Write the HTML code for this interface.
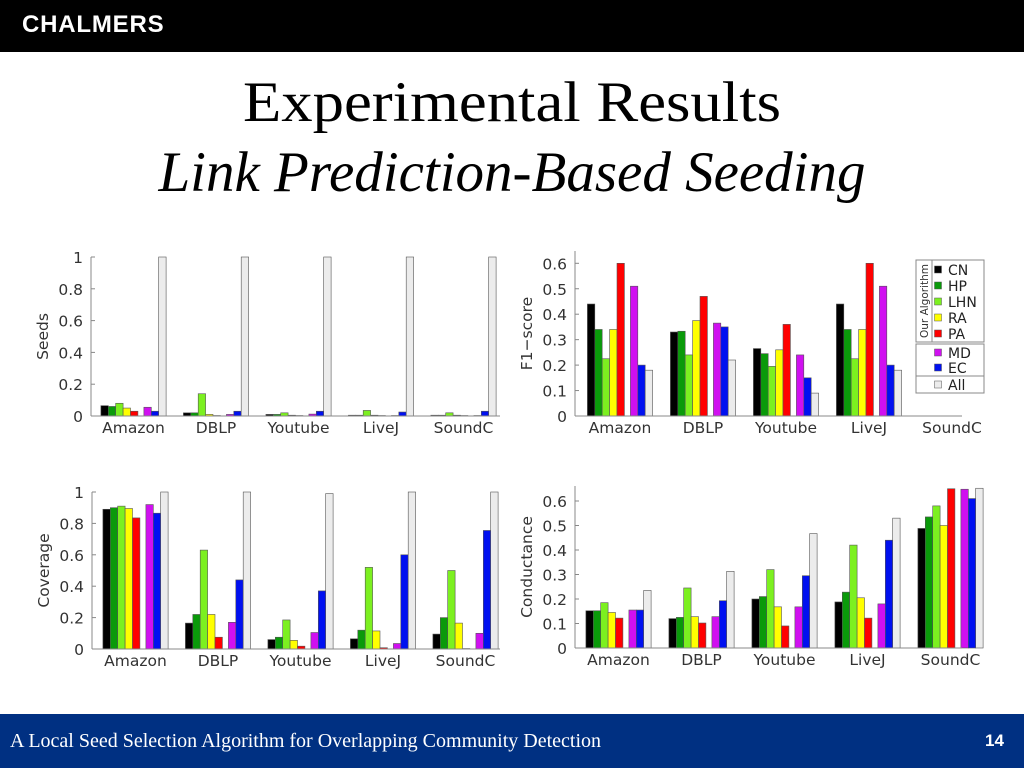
<!DOCTYPE html>
<html><head><meta charset="utf-8"><style>
html,body{margin:0;padding:0;width:1024px;height:768px;overflow:hidden;background:#fff;}
.hdr{position:absolute;left:0;top:0;width:1024px;height:52px;background:#000;}
.logo{position:absolute;left:22px;top:11px;color:#fff;font:bold 24px "Liberation Sans",sans-serif;letter-spacing:0.8px;}
.t1{position:absolute;left:0;width:1024px;top:70px;line-height:1;text-align:center;font:57px "Liberation Serif",serif;color:#000;transform:scaleX(1.1);}
.t2{position:absolute;left:0;width:1024px;top:140px;line-height:1;text-align:center;font:italic 57px "Liberation Serif",serif;color:#000;}
.ftr{position:absolute;left:0;top:714px;width:1024px;height:54px;background:#003082;}
.ftxt{position:absolute;left:10px;top:16px;color:#fff;font:20px "Liberation Serif",serif;}
.pnum{position:absolute;left:985px;top:17px;color:#fff;font:bold 17px "Liberation Sans",sans-serif;}
svg{position:absolute;left:0;top:0;}
</style></head><body>
<div class="hdr"><div class="logo">CHALMERS</div></div>
<div class="t1">Experimental Results</div>
<div class="t2">Link Prediction-Based Seeding</div>
<svg id="s" width="1024" height="768"></svg>
<div class="ftr"><div class="ftxt">A Local Seed Selection Algorithm for Overlapping Community Detection</div><div class="pnum">14</div></div>
<script>
const categories=["Amazon","DBLP","Youtube","LiveJ","SoundC"];
const seriesNames=["CN","HP","LHN","RA","PA","MD","EC","All"];
const seriesColors=["#000000","#0a9a0a","#7cf020","#ffff00","#ff0000","#d010f0","#0010f0","#ececec"];
const seedsCN=[0.065,0.02,0.01,0.005,0.005];
const seedsHP=[0.06,0.02,0.01,0.005,0.005];
const seedsLHN=[0.08,0.14,0.02,0.035,0.02];
const seedsRA=[0.05,0.01,0.005,0.005,0.005];
const seedsPA=[0.03,0.003,0.003,0.003,0.003];
const seedsMD=[0.055,0.01,0.012,0.003,0.003];
const seedsEC=[0.03,0.03,0.03,0.025,0.03];
const seedsAll=[1,1,1,1,1];
const f1CN=[0.44,0.33,0.265,0.44,0];
const f1HP=[0.34,0.333,0.245,0.34,0];
const f1LHN=[0.225,0.24,0.195,0.225,0];
const f1RA=[0.34,0.375,0.26,0.34,0];
const f1PA=[0.6,0.47,0.36,0.6,0];
const f1MD=[0.51,0.365,0.24,0.51,0];
const f1EC=[0.2,0.35,0.15,0.2,0];
const f1All=[0.18,0.22,0.09,0.18,0];
const covCN=[0.89,0.165,0.06,0.065,0.095];
const covHP=[0.9,0.22,0.075,0.12,0.2];
const covLHN=[0.91,0.63,0.185,0.52,0.5];
const covRA=[0.895,0.22,0.055,0.115,0.165];
const covPA=[0.835,0.075,0.018,0.008,0.003];
const covMD=[0.92,0.17,0.105,0.035,0.1];
const covEC=[0.865,0.44,0.37,0.6,0.755];
const covAll=[1,1,0.99,1,1];
const conCN=[0.152,0.12,0.2,0.188,0.488];
const conHP=[0.152,0.125,0.21,0.228,0.535];
const conLHN=[0.185,0.245,0.32,0.42,0.58];
const conRA=[0.145,0.128,0.168,0.205,0.5];
const conPA=[0.122,0.102,0.09,0.122,0.65];
const conMD=[0.155,0.128,0.168,0.18,0.648];
const conEC=[0.155,0.193,0.295,0.44,0.61];
const conAll=[0.235,0.313,0.467,0.53,0.652];
const ticks10=["0","0.2","0.4","0.6","0.8","1"];
const ticks06=["0","0.1","0.2","0.3","0.4","0.5","0.6"];

const NS="http://www.w3.org/2000/svg";
const svg=document.getElementById('s');
function mk(t,a,p){const e=document.createElementNS(NS,t);for(const k in a)e.setAttribute(k,a[k]);(p||svg).appendChild(e);return e;}
function chart(cfg){
  const g=mk('g',{});
  
  
  const y=v=>cfg.y0-(v/cfg.vmax)*(cfg.y0-cfg.yMax);
  const cx=i=>cfg.c0+i*cfg.pitch;
  const bw=7.4,gap=6;
  cfg.series.forEach((arr,s)=>{
    arr.forEach((v,i)=>{
      const off=s*bw+(s>=5?gap:0);
      const x=cx(i)-(8*bw+gap)/2+off;
      if(v<=0)return;
      const r=mk('rect',{x:x,y:y(v),width:bw,height:cfg.y0-y(v),fill:seriesColors[s],stroke:'#555','stroke-width':0.6},g);
      
      
    });
  });
  mk('line',{x1:cfg.x0,y1:cfg.yTop,x2:cfg.x0,y2:cfg.y0,stroke:'#888','stroke-width':1},g);
  mk('line',{x1:cfg.x0,y1:cfg.y0,x2:cfg.xR,y2:cfg.y0,stroke:'#888','stroke-width':1},g);
  cfg.ticks.forEach(t=>{
    const v=parseFloat(t);
    mk('line',{x1:cfg.x0,y1:y(v),x2:cfg.x0+4,y2:y(v),stroke:'#888'},g);
    const tx=mk('text',{x:cfg.x0-8,y:y(v)+6,'text-anchor':'end','font-family':'DejaVu Sans, sans-serif','font-size':15.5,fill:'#333'},g);
    tx.textContent=t;
    
    
  });
  categories.forEach((c,i)=>{
    const tx=mk('text',{x:cx(i),y:cfg.y0+17,'text-anchor':'middle','font-family':'DejaVu Sans, sans-serif','font-size':15.5,fill:'#333'},g);
    tx.textContent=c;
    
    
  });
  const yt=mk('text',{x:0,y:0,transform:`translate(${cfg.x0-43},${(cfg.y0+cfg.yTop)/2}) rotate(-90)`,'text-anchor':'middle','font-family':'DejaVu Sans, sans-serif','font-size':15.5,fill:'#333'},g);
  yt.textContent=cfg.title;
  
  
}
chart({name:'seeds-chart',title:'Seeds',x0:91,xR:500,y0:416,yMax:257,yTop:257,vmax:1,c0:133.5,pitch:82.5,ticks:ticks10,
  series:[seedsCN,seedsHP,seedsLHN,seedsRA,seedsPA,seedsMD,seedsEC,seedsAll]});
chart({name:'f1-score-chart',title:'F1\u2212score',x0:575,xR:962,y0:416,yMax:263.3,yTop:251,vmax:0.6,c0:620,pitch:83,ticks:ticks06,
  series:[f1CN,f1HP,f1LHN,f1RA,f1PA,f1MD,f1EC,f1All]});
chart({name:'coverage-chart',title:'Coverage',x0:92,xR:500,y0:649,yMax:492,yTop:492,vmax:1,c0:135.5,pitch:82.5,ticks:ticks10,
  series:[covCN,covHP,covLHN,covRA,covPA,covMD,covEC,covAll]});
chart({name:'conductance-chart',title:'Conductance',x0:575,xR:962,y0:648,yMax:501,yTop:486,vmax:0.6,c0:618.5,pitch:83,ticks:ticks06,
  series:[conCN,conHP,conLHN,conRA,conPA,conMD,conEC,conAll]});

const lg=mk('g',{});


mk('rect',{x:916,y:260,width:68,height:82,fill:'#fff',stroke:'#888'},lg);
mk('line',{x1:932,y1:260,x2:932,y2:342,stroke:'#888'},lg);
mk('rect',{x:916,y:344,width:68,height:32,fill:'#fff',stroke:'#888'},lg);
mk('rect',{x:916,y:376,width:68,height:17,fill:'#fff',stroke:'#888'},lg);
const oa=mk('text',{x:0,y:0,transform:'translate(928,301) rotate(-90)','text-anchor':'middle','font-family':'DejaVu Sans, sans-serif','font-size':10.5,fill:'#333'},lg);
oa.textContent='Our Algorithm';
const legY=[270,286,302,318,334,353,368,385];
seriesNames.forEach((n,s)=>{
  const it=mk('g',{},lg);
  
  
  mk('rect',{x:934.5,y:legY[s]-4,width:7,height:7,fill:seriesColors[s],stroke:'#555','stroke-width':0.5},it);
  const t=mk('text',{x:948,y:legY[s]+5,'font-family':'DejaVu Sans, sans-serif','font-size':14,fill:'#222'},it);
  t.textContent=n;
});
</script>
</body></html>
